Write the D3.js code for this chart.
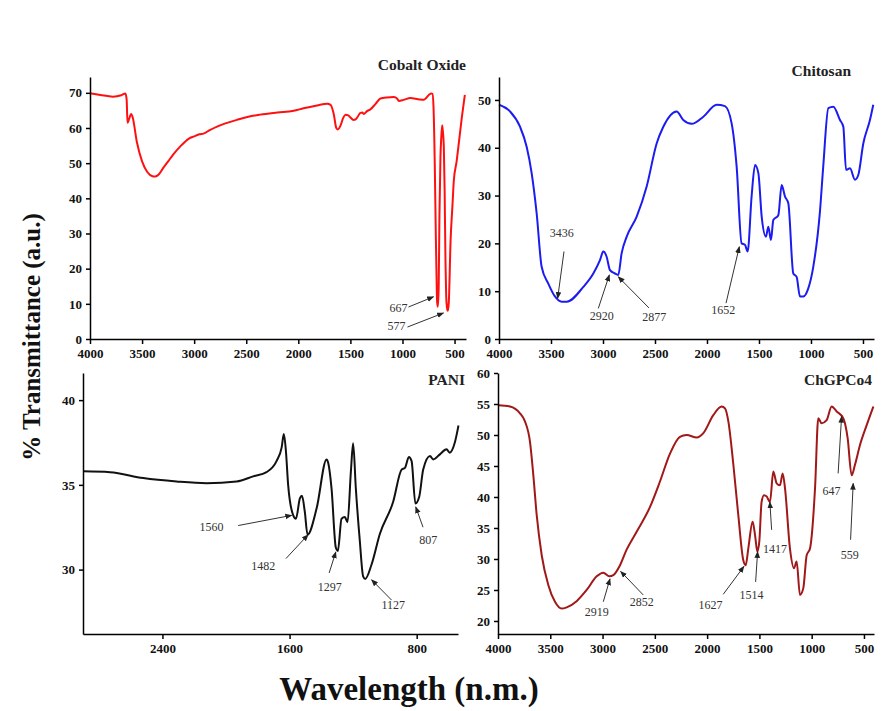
<!DOCTYPE html>
<html>
<head>
<meta charset="utf-8">
<script src="https://cdn.jsdelivr.net/npm/d3@7/dist/d3.min.js"></script>
<style>
  body { margin: 0; background: #fff; }
  .axis path, .axis line { stroke: #000; stroke-width: 1.5px; }
  .axis text { font-family: "Liberation Serif", "Times New Roman", serif; font-weight: 700; font-size: 13px; fill: #111; }
  .note { font-family: "Liberation Serif", "Times New Roman", serif; font-size: 12px; fill: #333; }
  .title { font-family: "Liberation Serif", "Times New Roman", serif; font-weight: 700; font-size: 15.5px; fill: #222; }
</style>
</head>
<body>
<div id="chart"></div>
<script>
// ---- data (wavenumber, % transmittance) ----
var cobaltWn = [4000, 3900, 3780, 3700, 3660, 3648, 3640, 3625, 3605, 3590, 3550, 3500, 3450, 3400, 3375, 3340, 3300, 3250, 3200, 3135, 3050, 3000, 2950, 2910, 2850, 2780, 2700, 2590, 2480, 2365, 2200, 2045, 1950, 1820, 1724, 1690, 1660, 1635, 1620, 1596, 1570, 1548, 1520, 1500, 1470, 1452, 1430, 1404, 1385, 1372, 1340, 1308, 1260, 1212, 1150, 1083, 1050, 1035, 990, 923, 850, 795, 770, 747, 725, 712, 702, 690, 680, 673, 667, 660, 652, 645, 635, 628, 619, 612, 603, 595, 587, 580, 573, 565, 555, 538, 520, 507, 480, 459, 430, 401];
var cobaltT = [69.9, 69.4, 68.9, 69.3, 69.8, 68, 61.5, 62.5, 64, 63, 56, 50.5, 47.5, 46.3, 46.2, 46.8, 48.5, 50.5, 52.5, 54.7, 57, 57.6, 58.2, 58.4, 59.4, 60.4, 61.3, 62.3, 63.2, 63.8, 64.4, 64.9, 65.6, 66.4, 66.9, 66.6, 64, 60, 59.6, 60.6, 62.8, 63.8, 63.6, 63, 62.3, 62.4, 63.2, 64.3, 64.4, 64, 64.8, 65.3, 66.8, 68.4, 68.7, 68.8, 68.3, 67.7, 68, 68.5, 68.2, 68, 68.6, 69.4, 69.8, 69.7, 66, 50, 30, 18, 10.5, 9.2, 15, 35, 52, 57, 60.8, 59, 54.7, 42, 22, 12, 9, 8, 10.5, 28, 38, 45, 50.5, 55.7, 63, 69.4];

var chitosanWn = [4000, 3894, 3798, 3734, 3686, 3638, 3590, 3526, 3462, 3397, 3349, 3189, 3093, 3029, 2997, 2965, 2933, 2885, 2853, 2821, 2772, 2676, 2580, 2484, 2420, 2292, 2228, 2147, 2035, 1907, 1827, 1763, 1715, 1667, 1635, 1609, 1571, 1538, 1506, 1474, 1433, 1410, 1385, 1362, 1314, 1282, 1250, 1218, 1170, 1138, 1106, 1074, 1026, 978, 914, 882, 833, 785, 721, 689, 663, 625, 577, 545, 497, 433, 401];
var chitosanT = [49, 47.6, 44.4, 40.2, 34.7, 26.3, 15.1, 11.6, 8.9, 7.8, 7.8, 10.9, 13.7, 16.5, 18.3, 17.2, 14.4, 13.7, 13.4, 17.9, 21.4, 25.6, 31.9, 40.9, 44.4, 47.6, 45.8, 45, 46.5, 49, 48.7, 45.1, 36.1, 20, 19.7, 18.3, 29.8, 36.4, 34.7, 25.6, 21.4, 23.5, 20.7, 24.9, 25.9, 32.2, 29.8, 28.4, 13.7, 13, 8.9, 8.9, 10.6, 15.1, 26.6, 36.1, 48.3, 48.6, 45.8, 44.4, 35.4, 35.7, 33.3, 34.3, 40.9, 45.8, 49];

var paniWn = [2898, 2730, 2521, 2311, 2122, 1933, 1829, 1745, 1682, 1650, 1636, 1623, 1609, 1577, 1560, 1535, 1522, 1504, 1487, 1430, 1367, 1357, 1336, 1309, 1296, 1273, 1252, 1235, 1214, 1200, 1183, 1158, 1137, 1124, 1084, 1032, 948, 895, 874, 849, 832, 808, 784, 759, 716, 696, 654, 612, 592, 560, 537];
var paniT = [35.8, 35.75, 35.4, 35.2, 35.1, 35.2, 35.5, 35.75, 36.4, 37.2, 38, 37, 35, 33.2, 33, 34.2, 34.35, 33.4, 32.06, 33.6, 36.5, 36.3, 34.8, 31.3, 31.1, 33, 33.1, 32.8, 35.8, 37.45, 34.8, 31.7, 29.6, 29.45, 30.3, 32.1, 34, 35.9, 36, 36.65, 36.4, 33.9, 34.3, 35.9, 36.7, 36.5, 36.8, 37.1, 36.9, 37.5, 38.5];

var chgpWn = [4000, 3885, 3790, 3742, 3694, 3662, 3630, 3582, 3519, 3455, 3391, 3343, 3248, 3152, 3056, 2993, 2935, 2897, 2833, 2770, 2674, 2546, 2451, 2355, 2260, 2196, 2100, 2036, 1941, 1861, 1829, 1797, 1749, 1702, 1654, 1631, 1606, 1565, 1542, 1520, 1501, 1479, 1456, 1431, 1399, 1367, 1335, 1303, 1278, 1255, 1208, 1169, 1144, 1112, 1080, 1048, 1016, 968, 937, 905, 857, 809, 761, 698, 656, 618, 586, 538, 474, 410];
var chgpT = [54.8, 54.6, 53.5, 52.2, 48.9, 43.5, 37.1, 30.6, 25.8, 23.1, 22, 22.2, 23.2, 25, 27.2, 27.8, 27.2, 27.4, 29, 31.5, 34.4, 38.4, 42.5, 47, 49.7, 50, 49.6, 50.3, 53.2, 54.6, 54.3, 52.2, 45.2, 37.1, 29.8, 29, 31.7, 36, 33.9, 31.2, 32.8, 39.2, 40.3, 40.1, 39.2, 44.1, 42.2, 41.9, 43.8, 41.4, 31.7, 28.5, 29.6, 24.2, 25.3, 30.6, 31.7, 41.4, 52.7, 51.9, 52.4, 54.6, 53.8, 52.7, 49.5, 43.5, 45.2, 48.4, 51.6, 54.6];

// ---- tick values ----
var ticksWide = [4000, 3500, 3000, 2500, 2000, 1500, 1000, 500];
var ticksPani = [2400, 1600, 800];
var yTicksCobalt = [0, 10, 20, 30, 40, 50, 60, 70];
var yTicksChitosan = [0, 10, 20, 30, 40, 50];
var yTicksPani = [30, 35, 40];
var yTicksChgp = [20, 25, 30, 35, 40, 45, 50, 55, 60];

// ---- peak labels: [label, textWn, textT, tailWn, tailT, tipWn, tipT] ----
var notesCobalt = [
  ["667", 952, 7.7, 942, 9.1, 702, 12],
  ["577", 971, 2.6, 952, 3.4, 606, 7.4]
];
var notesChitosan = [
  ["3436", 3397, 21.3, 3375, 18.3, 3436, 8.5],
  ["2920", 3012, 4.0, 3045, 6.4, 2939, 13.4],
  ["2877", 2507, 3.8, 2558, 6.5, 2853, 13],
  ["1652", 1843, 5.2, 1817, 7.5, 1689, 19.3]
];
var notesPani = [
  ["1560", 2091, 32.3, 1923, 32.6, 1587, 33.2],
  ["1482", 1766, 30, 1623, 30.65, 1483, 32.06],
  ["1297", 1347, 28.76, 1351, 29.8, 1309, 31.04],
  ["1127", 948, 27.7, 958, 28.2, 1084, 29.4],
  ["807", 728, 31.5, 760, 32.5, 806, 33.7]
];
var notesChgp = [
  ["2919", 3056, 20.8, 2993, 23.1, 2929, 26.8],
  ["2852", 2626, 22.4, 2611, 24.2, 2827, 28],
  ["1627", 1967, 21.9, 1846, 24.3, 1648, 28.8],
  ["1514", 1575, 23.5, 1536, 26.3, 1517, 31.2],
  ["1417", 1352, 31, 1383, 34.7, 1400, 39.2],
  ["647", 810, 40.3, 747, 43.8, 714, 53],
  ["559", 635, 30, 628, 33.1, 603, 42.2]
];

var svg = d3.select("#chart").append("svg")
    .attr("width", 889)
    .attr("height", 711);

// arrow head
svg.append("defs").append("marker")
    .attr("id", "arrow")
    .attr("viewBox", "0 0 10 10")
    .attr("refX", 9).attr("refY", 5)
    .attr("markerWidth", 7).attr("markerHeight", 7)
    .attr("markerUnits", "userSpaceOnUse")
    .attr("orient", "auto")
    .append("path")
    .attr("d", "M0,1L10,5L0,9Z")
    .attr("fill", "#222");

function drawPanel(p) {
    // set the ranges
    var x = d3.scaleLinear().domain(p.xDomain).range([p.left, p.right]);
    var y = d3.scaleLinear().domain(p.yDomain).range([p.bottom, p.top]);

    // the spectrum
    var line = d3.line()
        .x(function (d) { return x(d[0]); })
        .y(function (d) { return y(d[1]); })
        .curve(d3.curveMonotoneX);
    svg.append("path")
        .datum(d3.zip(p.wn, p.t))
        .attr("fill", "none")
        .attr("stroke", p.color)
        .attr("stroke-width", 2)
        .attr("stroke-linejoin", "round")
        .attr("d", line);

    // add the x Axis
    svg.append("g")
        .attr("class", "axis")
        .attr("transform", "translate(0," + p.bottom + ")")
        .call(d3.axisBottom(x).tickValues(p.xTicks).tickFormat(d3.format("d"))
            .tickSize(5).tickPadding(5).tickSizeOuter(0));

    // add the y Axis
    svg.append("g")
        .attr("class", "axis")
        .attr("transform", "translate(" + p.left + ",0)")
        .call(d3.axisLeft(y).tickValues(p.yTicks).tickFormat(d3.format("d"))
            .tickSize(4).tickPadding(4).tickSizeOuter(0));

    // peak labels and arrows
    p.notes.forEach(function (n) {
        svg.append("line")
            .attr("x1", x(n[3])).attr("y1", y(n[4]))
            .attr("x2", x(n[5])).attr("y2", y(n[6]))
            .attr("stroke", "#333")
            .attr("stroke-width", 1)
            .attr("marker-end", "url(#arrow)");
        svg.append("text")
            .attr("class", "note")
            .attr("x", x(n[1]))
            .attr("y", y(n[2]))
            .attr("text-anchor", p.noteAnchor)
            .text(n[0]);
    });

    svg.append("text")
        .attr("class", "title")
        .attr("x", p.titleX)
        .attr("y", p.titleY)
        .attr("text-anchor", "end")
        .text(p.title);
}

drawPanel({ title: "Cobalt Oxide", titleX: 466, titleY: 70, color: "#ff1010",
    wn: cobaltWn, t: cobaltT, notes: notesCobalt, noteAnchor: "end",
    left: 90, right: 466, top: 77, bottom: 339,
    xDomain: [4000, 390], yDomain: [0, 74.5], xTicks: ticksWide, yTicks: yTicksCobalt });

drawPanel({ title: "Chitosan", titleX: 851, titleY: 76, color: "#1c1cf0",
    wn: chitosanWn, t: chitosanT, notes: notesChitosan, noteAnchor: "middle",
    left: 499, right: 874, top: 77, bottom: 339,
    xDomain: [4000, 394], yDomain: [0, 54.8], xTicks: ticksWide, yTicks: yTicksChitosan });

drawPanel({ title: "PANI", titleX: 465, titleY: 385, color: "#111",
    wn: paniWn, t: paniT, notes: notesPani, noteAnchor: "middle",
    left: 83, right: 458, top: 373, bottom: 634,
    xDomain: [2900, 540], yDomain: [26.2, 41.6], xTicks: ticksPani, yTicks: yTicksPani });

drawPanel({ title: "ChGPCo4", titleX: 872, titleY: 385, color: "#a01818",
    wn: chgpWn, t: chgpT, notes: notesChgp, noteAnchor: "middle",
    left: 498, right: 874, top: 373, bottom: 634,
    xDomain: [4000, 404], yDomain: [17.9, 60], xTicks: ticksWide, yTicks: yTicksChgp });

// shared axis titles
svg.append("text")
    .attr("transform", "translate(40,337) rotate(-90)")
    .attr("text-anchor", "middle")
    .style("font-family", '"Liberation Serif", "Times New Roman", serif')
    .style("font-weight", "700")
    .style("font-size", "25px")
    .style("fill", "#111")
    .text("% Transmittance (a.u.)");

svg.append("text")
    .attr("x", 409)
    .attr("y", 700)
    .attr("text-anchor", "middle")
    .style("font-family", '"Liberation Serif", "Times New Roman", serif')
    .style("font-weight", "700")
    .style("font-size", "33px")
    .style("fill", "#111")
    .text("Wavelength (n.m.)");
</script>
</body>
</html>
